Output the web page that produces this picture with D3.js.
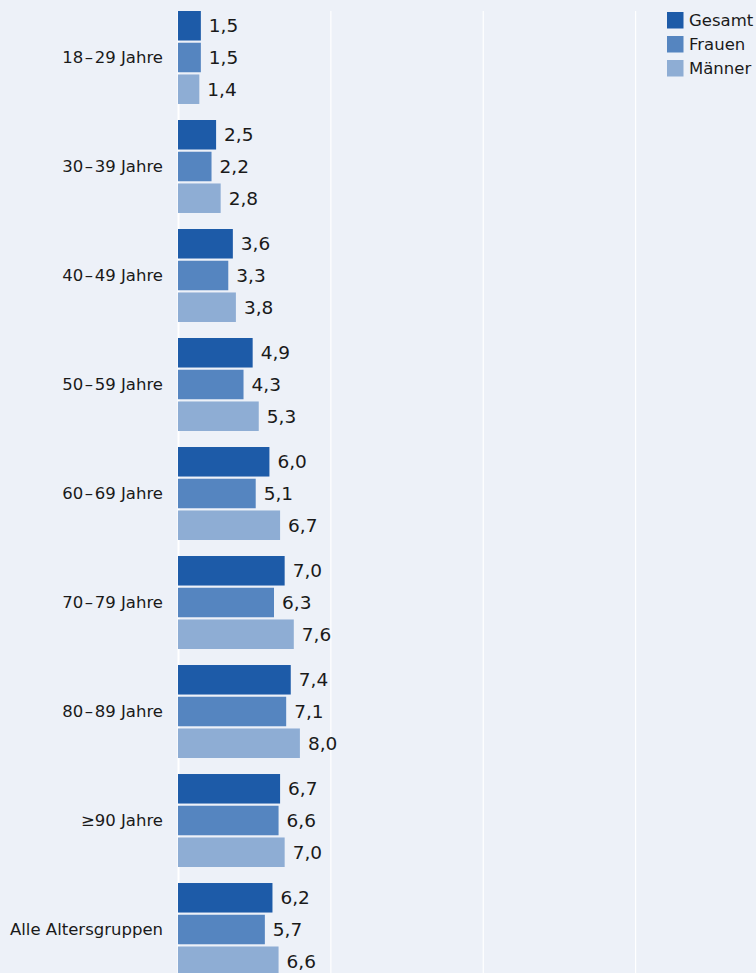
<!DOCTYPE html>
<html>
<head>
<meta charset="utf-8">
<script src="https://cdn.jsdelivr.net/npm/d3@7"></script>
<style>
  html, body { margin: 0; padding: 0; background: #edf1f8; }
  svg { display: block; font-family: "DejaVu Sans", "Open Sans", sans-serif; }
</style>
</head>
<body>
<svg id="chart" width="756" height="973"></svg>
<script>
// Altersgruppen
const groups = ["18\u200a\u2013\u200a29 Jahre", "30\u200a\u2013\u200a39 Jahre", "40\u200a\u2013\u200a49 Jahre",
  "50\u200a\u2013\u200a59 Jahre", "60\u200a\u2013\u200a69 Jahre", "70\u200a\u2013\u200a79 Jahre",
  "80\u200a\u2013\u200a89 Jahre", "\u226590 Jahre", "Alle Altersgruppen"];
const series = ["Gesamt", "Frauen", "Männer"];
const gesamt = [1.5, 2.5, 3.6, 4.9, 6.0, 7.0, 7.4, 6.7, 6.2];
const frauen = [1.5, 2.2, 3.3, 4.3, 5.1, 6.3, 7.1, 6.6, 5.7];
const maenner = [1.4, 2.8, 3.8, 5.3, 6.7, 7.6, 8.0, 7.0, 6.6];
const gridTicks = [0, 10, 20, 30];
const colors = ["#1d5ba8", "#5585c0", "#8eadd4"];

const values = [gesamt, frauen, maenner];
const svg = d3.select("#chart");
const W = 756, H = 973;

const x = d3.scaleLinear().domain([0, 38]).range([178, 757]);
const y = d3.scaleBand().domain(groups).range([11, 976]).paddingInner(0.147).paddingOuter(0);
const ySub = d3.scaleBand().domain(series).range([0, y.bandwidth()]).paddingInner(0.07).paddingOuter(0);

// vertical gridlines
svg.append("g").selectAll("line").data(gridTicks).join("line")
  .attr("x1", d => x(d) + 0.5).attr("x2", d => x(d) + 0.5)
  .attr("y1", 11).attr("y2", H)
  .attr("stroke", "#ffffff").attr("stroke-width", d => d === 0 ? 2 : 1.2);

const fmt = v => d3.format(".1f")(v).replace(".", ",");

const g = svg.append("g").selectAll("g").data(groups).join("g")
  .attr("transform", d => `translate(0,${y(d)})`);

g.each(function(grp, gi) {
  const sel = d3.select(this);
  series.forEach((s, si) => {
    const v = values[si][gi];
    sel.append("rect")
      .attr("x", x(0)).attr("y", ySub(s))
      .attr("width", x(v) - x(0)).attr("height", ySub.bandwidth())
      .attr("fill", colors[si]);
    sel.append("text")
      .attr("x", x(v) + 8).attr("y", ySub(s) + ySub.bandwidth() / 2)
      .attr("dy", "0.36em")
      .attr("font-size", 18.5).attr("fill", "#1a1a1a")
      .text(fmt(v));
  });
  sel.append("text")
    .attr("x", 163).attr("y", ySub("Frauen") + ySub.bandwidth() / 2)
    .attr("dy", "0.36em").attr("text-anchor", "end")
    .attr("font-size", 16.5).attr("fill", "#1a1a1a")
    .text(grp);
});

// legend
const leg = svg.append("g").selectAll("g").data(series).join("g")
  .attr("transform", (d, i) => `translate(667,${12 + i * 24})`);
leg.append("rect").attr("width", 16.5).attr("height", 16.5).attr("fill", (d, i) => colors[i]);
leg.append("text").attr("x", 22).attr("y", 8.5).attr("dy", "0.36em")
  .attr("font-size", 16.5).attr("fill", "#1a1a1a").text(d => d);
</script>
</body>
</html>
